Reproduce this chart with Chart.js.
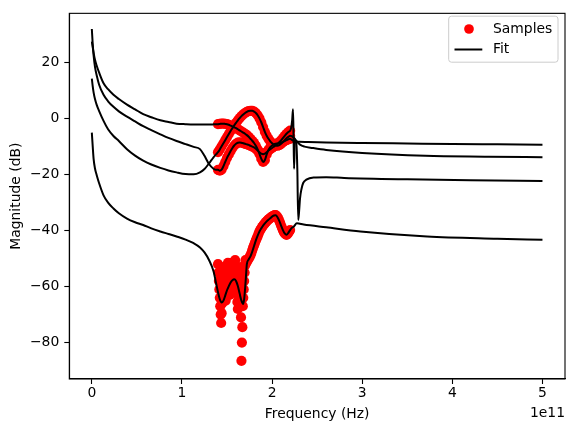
<!DOCTYPE html>
<html>
<head>
<meta charset="utf-8">
<script src="https://cdn.jsdelivr.net/npm/chart.js@4.4.0/dist/chart.umd.min.js"></script>
<style>
  html, body { margin: 0; padding: 0; background: #fff; }
  #wrap { width: 574px; height: 432px; }
</style>
</head>
<body>
<div id="wrap"><canvas id="grafico" width="574" height="432"></canvas></div>
<script>
// frequencies in GHz, magnitudes in dB

// measured samples (A, B, C on a 2 GHz grid)
const sampleFreq = [140,142,144,146,148,150,152,154,156,158,160,162,164,166,168,170,172,174,176,178,180,
                    182,184,186,188,190,192,194,196,198,200,202,204,206,208,210,212,214,216,218,220];
const sampleA = [-2.0,-1.9,-1.8,-1.8,-1.9,-2.0,-2.2,-2.5,-2.8,-3.1,-3.4,-3.8,-4.2,-4.6,-5.0,-5.4,-5.9,-6.5,-7.2,-7.9,-8.7,
                 -9.7,-11.0,-12.6,-14.3,-15.5,-14.8,-12.8,-11.2,-10.2,-9.6,-9.2,-9.0,-8.9,-8.8,-8.6,-8.3,-8.0,-7.7,-7.4,-7.2];
const sampleB = [-18.3,-18.6,-18.2,-17.0,-15.5,-14.0,-12.8,-11.6,-10.5,-9.6,-9.0,-8.6,-8.5,-8.6,-8.8,-9.0,-9.2,-9.4,-9.7,-10.0,-10.3,
                 -10.8,-11.4,-12.0,-12.5,-12.7,-12.5,-12.0,-11.4,-10.9,-10.5,-10.0,-9.5,-9.0,-8.4,-7.8,-7.0,-6.2,-5.4,-4.8,-4.3];
const sampleC = [-12.0,-11.0,-9.9,-8.8,-7.7,-6.6,-5.5,-4.4,-3.4,-2.4,-1.5,-0.6,0.2,0.9,1.5,2.0,2.4,2.7,2.8,2.8,2.5,
                 2.0,1.2,0.1,-1.3,-3.0,-4.7,-6.1,-7.2,-8.1,-8.8,-9.3,-9.6,-9.7,-9.5,-9.0,-8.4,-7.7,-7.0,-6.5,-6.1];

// D samples: 0.5 GHz grid up to 172, then 1 GHz (noisy near the notches)
const sampleFreqD = [140,140.5,141,141.5,142,142.5,143,143.5,144,144.5,145,145.5,146,146.5,147,147.5,148,148.5,149,149.5,
                     150,150.5,151,151.5,152,152.5,153,153.5,154,154.5,155,155.5,156,156.5,157,157.5,158,158.5,159,159.5,
                     160,160.5,161,161.5,162,162.5,163,163.5,164,164.5,165,165.5,166,166.5,167,167.5,168,168.5,169,169.5,
                     170,170.5,171,171.5,172,
                     173,174,175,176,177,178,179,180,181,182,183,184,185,186,187,188,189,190,191,192,193,194,195,196,
                     197,198,199,200,201,202,203,204,205,206,207,208,209,210,211,212,213,214,215,216,217,218,219,220];
const sampleD = [-52,-55,-58,-61,-64,-67,-70,-73,-69.5,-66,-62.5,-59,-56,-53,-56,-59,-62,-65,-62,-59,
                 -56,-53,-51.5,-54.5,-57.5,-60.5,-63,-60,-57,-54,-51.5,-54,-57,-60,-62,-59,-56,-53,-50.5,-53.5,
                 -56.5,-59.5,-62.5,-65.5,-68,-65,-62,-59,-56,-53,-62,-71,-86.5,-80,-74.5,-67,-64,-61,-58,-55,
                 -52.5,-50.5,-51,-51.5,-51,
                 -50.5,-50,-49.5,-48.8,-48,-47,-46,-45.2,-44.3,-43.5,-42.7,-42,-41.1,-40.3,-39.7,-39.2,-38.7,-38.2,-37.8,-37.4,-37,-36.7,-36.3,-36,
                 -35.8,-35.5,-35.2,-35,-34.8,-34.6,-34.5,-34.5,-34.8,-35.2,-35.8,-36.5,-37.3,-38.2,-39,-39.8,-40.5,-41,-41.3,-41.5,-41.3,-40.8,-40.3,-39.8];

// fitted model below the sample band
const preFreq = [0,1,2,3.5,5.5,8,13,18,24,30,39,48,57,66,76,85,94,104,113,120,125,130,135,138];
const preA = [27.5,25.5,23.5,21,18.8,16.5,12.6,10.5,8.5,7,5,3.3,1.6,0.5,-0.6,-1.2,-1.8,-2.0,-2.1,-2.1,-2.1,-2.1,-2.05,-2.0];
const preB = [32,26.5,22.5,18.5,15.3,12.2,8.5,6.2,4.2,2.6,0.7,-1,-2.7,-4.1,-5.6,-6.9,-8,-9.1,-10.1,-10.9,-13.3,-16.2,-17.9,-18.3];
const preC = [14.3,11.5,9.3,7,4.8,2.8,-0.8,-3.8,-6.2,-8,-10.9,-13.2,-15,-16.4,-17.6,-18.5,-19.2,-19.8,-19.9,-19.2,-18.0,-16.0,-13.8,-12.7];
const preD = [-5,-10,-14.5,-17.8,-20.3,-23,-27.4,-30,-32.1,-33.8,-35.7,-37,-38,-39.2,-40.3,-41.2,-42.1,-43.2,-44.5,-46,-47.8,-50.5,-54.5,-59];

// fitted model for D inside the band (smooth)
const fitFreqD = [140,142,144,146,148,150,152,154,156,158,160,162,164,166,168,169,170,171,172,174,176,178,180,
                  182,184,186,188,190,192,194,196,198,200,202,204,206,208,210,212,214,216,218,220];
const fitD = [-62,-64.5,-65.7,-65,-63.2,-61.3,-59.8,-58.5,-57.7,-57.4,-58,-59.8,-62.5,-65,-66.2,-64.5,-61,-56.5,-52,-50.3,-49.2,-47.5,-45.5,
              -43.5,-41.8,-40.3,-39.2,-38.2,-37.4,-36.7,-36.1,-35.6,-35,-34.6,-34.5,-35.2,-36.5,-38.2,-39.8,-41,-41.5,-40.8,-39.8];

// fitted model above the sample band
const postFreqA = [222,224,226,230,240,260,300,350,400,450,500];
const postA = [-7.6,-8.0,-8.2,-8.3,-8.35,-8.5,-8.7,-8.9,-9.1,-9.2,-9.3];
const postFreqB = [221,222.3,223.2,223.8,224.4,225.2,226.5,228,231,236,245,260,300,370,440,500];
const postB = [-3.5,-0.5,3.3,-6,-17.9,-9,-7.8,-8.3,-9.3,-10,-10.5,-11.2,-12.3,-13.3,-13.6,-13.8];
const postFreqC = [222,224,226,227,228,229,230,231,232.5,234.5,238,246,260,280,350,420,500];
const postC = [-6.3,-6.8,-7.6,-9,-18,-36.2,-33,-28.5,-25.3,-23,-21.8,-21,-20.9,-21.2,-21.7,-22.0,-22.3];
const postFreqD = [222,224,227.5,235,260,298,372,450,500];
const postD = [-39,-38.6,-37.4,-37.8,-38.8,-40.3,-42.1,-42.9,-43.3];

const xTicks = [0,100,200,300,400,500];
const yTicks = [-80,-60,-40,-20,0,20];

function pontos(xs, ys) {
  return xs.map((x, i) => ({x: x, y: ys[i]}));
}

function curvaFit(partes) {
  let out = [];
  partes.forEach(p => { out = out.concat(pontos(p[0], p[1])); });
  return out;
}

const fonte = {family: 'DejaVu Sans', size: 13.9};
const raio = 5.1;

function fitSet(dados) {
  return {
    label: 'Fit', data: dados, showLine: true, borderColor: '#000', borderWidth: 2,
    pointRadius: 0, cubicInterpolationMode: 'monotone', order: 0
  };
}

function sampleSet(dados) {
  return {
    label: 'Samples', data: dados, showLine: false, pointRadius: raio, pointBorderWidth: 0,
    pointBackgroundColor: '#ff0000', backgroundColor: '#ff0000', order: 1
  };
}

const moldura = {
  id: 'moldura',
  afterDraw(chart) {
    const ctx = chart.ctx;
    const a = chart.chartArea;
    ctx.save();
    ctx.strokeStyle = '#000';
    ctx.lineWidth = 1.1;
    ctx.strokeRect(a.left, a.top, a.right - a.left, a.bottom - a.top);

    ctx.fillStyle = '#000';
    ctx.font = '13.9px "DejaVu Sans"';
    ctx.textAlign = 'right';
    ctx.textBaseline = 'middle';
    ctx.fillText('1e11', a.right, 413);

    // legenda
    const L = 448.7, T = 16.2, W = 109.3, H = 46;
    ctx.beginPath();
    ctx.roundRect(L, T, W, H, 2.8);
    ctx.fillStyle = 'rgba(255,255,255,0.8)';
    ctx.fill();
    ctx.strokeStyle = '#cccccc';
    ctx.lineWidth = 1;
    ctx.stroke();

    ctx.beginPath();
    ctx.arc(469, 29, 4.85, 0, Math.PI * 2);
    ctx.fillStyle = '#ff0000';
    ctx.fill();

    ctx.beginPath();
    ctx.moveTo(454.5, 49.5);
    ctx.lineTo(482.3, 49.5);
    ctx.strokeStyle = '#000';
    ctx.lineWidth = 2;
    ctx.stroke();

    ctx.fillStyle = '#000';
    ctx.textAlign = 'left';
    ctx.fillText('Samples', 493, 29);
    ctx.fillText('Fit', 493, 49.5);
    ctx.restore();
  }
};

new Chart(document.getElementById('grafico'), {
  type: 'scatter',
  data: {
    datasets: [
      fitSet(curvaFit([[preFreq, preA], [sampleFreq, sampleA], [postFreqA, postA]])),
      fitSet(curvaFit([[preFreq, preB], [sampleFreq, sampleB], [postFreqB, postB]])),
      fitSet(curvaFit([[preFreq, preC], [sampleFreq, sampleC], [postFreqC, postC]])),
      fitSet(curvaFit([[preFreq, preD], [fitFreqD, fitD], [postFreqD, postD]])),
      sampleSet(pontos(sampleFreq, sampleA)),
      sampleSet(pontos(sampleFreq, sampleB)),
      sampleSet(pontos(sampleFreq, sampleC)),
      sampleSet(pontos(sampleFreqD, sampleD))
    ]
  },
  options: {
    responsive: false,
    devicePixelRatio: 1,
    animation: false,
    events: [],
    layout: {padding: {left: 0, top: 9.3, right: 9, bottom: 0}},
    plugins: {legend: {display: false}, tooltip: {enabled: false}},
    scales: {
      x: {
        type: 'linear', min: -25, max: 525,
        afterBuildTicks: s => { s.ticks = xTicks.map(v => ({value: v})); },
        afterFit: s => { s.height = 53; },
        ticks: {callback: v => String(v / 100), font: fonte, color: '#000', padding: 1, maxRotation: 0, autoSkip: false},
        grid: {drawOnChartArea: false, drawTicks: true, tickLength: 5, tickWidth: 1.1, tickColor: '#000', color: '#000'},
        border: {display: true, color: '#000', width: 1.1},
        title: {display: true, text: 'Frequency (Hz)', font: fonte, color: '#000', padding: {top: 0, bottom: 9.7}}
      },
      y: {
        type: 'linear', min: -93.0, max: 37.6,
        afterBuildTicks: s => { s.ticks = yTicks.map(v => ({value: v})); },
        afterFit: s => { s.width = 69.3; },
        ticks: {callback: v => (v < 0 ? '\u2212' + Math.abs(v) : String(v)), font: fonte, color: '#000', padding: 5, autoSkip: false},
        grid: {drawOnChartArea: false, drawTicks: true, tickLength: 5, tickWidth: 1.1, tickColor: '#000', color: '#000'},
        border: {display: true, color: '#000', width: 1.1},
        title: {display: true, text: 'Magnitude (dB)', font: fonte, color: '#000', padding: {top: 7.7, bottom: 0}}
      }
    }
  },
  plugins: [moldura]
});
</script>
</body>
</html>
